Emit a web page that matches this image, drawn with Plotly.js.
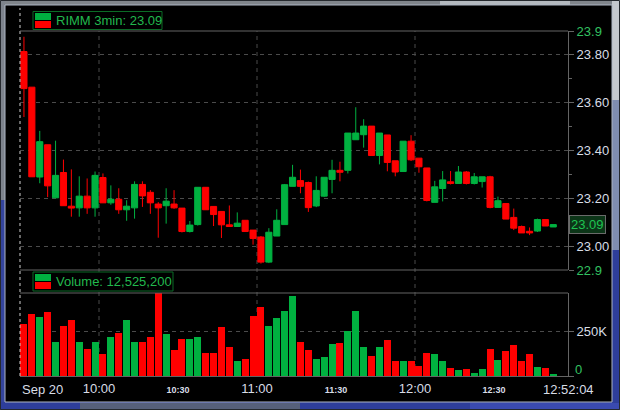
<!DOCTYPE html>
<html><head><meta charset="utf-8">
<script src="https://cdn.plot.ly/plotly-3.0.1.min.js"></script>
<style>html,body{margin:0;padding:0;background:#000;overflow:hidden}#chart{width:620px;height:410px}</style>
</head><body><div id="chart"></div>
<script>
// ---- data (3-minute bars, RIMM, Sep 20) ----
const times = ['09:30','09:33','09:36','09:39','09:42','09:45','09:48','09:51','09:54','09:57',
  '10:00','10:03','10:06','10:09','10:12','10:15','10:18','10:21','10:24','10:27',
  '10:30','10:33','10:36','10:39','10:42','10:45','10:48','10:51','10:54','10:57',
  '11:00','11:03','11:06','11:09','11:12','11:15','11:18','11:21','11:24','11:27',
  '11:30','11:33','11:36','11:39','11:42','11:45','11:48','11:51','11:54','11:57',
  '12:00','12:03','12:06','12:09','12:12','12:15','12:18','12:21','12:24','12:27',
  '12:30','12:33','12:36','12:39','12:42','12:45','12:48','12:51'];
const openP = [23.814,23.665,23.289,23.424,23.202,23.308,23.167,23.160,23.209,23.160,
  23.287,23.181,23.196,23.152,23.160,23.258,23.225,23.176,23.169,23.176,
  23.159,23.061,23.090,23.246,23.166,23.145,23.089,23.082,23.108,23.067,
  23.038,22.933,23.042,23.090,23.250,23.274,23.266,23.168,23.209,23.279,
  23.317,23.317,23.445,23.466,23.502,23.379,23.465,23.357,23.312,23.439,
  23.368,23.327,23.183,23.241,23.269,23.262,23.310,23.262,23.270,23.290,
  23.162,23.178,23.120,23.082,23.062,23.063,23.111,23.080];
const highP = [23.876,23.665,23.482,23.424,23.441,23.362,23.321,23.292,23.283,23.312,
  23.304,23.254,23.242,23.192,23.271,23.271,23.234,23.184,23.242,23.234,
  23.159,23.105,23.246,23.246,23.166,23.145,23.170,23.141,23.108,23.067,
  23.042,23.075,23.154,23.260,23.340,23.320,23.270,23.292,23.288,23.361,
  23.353,23.473,23.581,23.531,23.502,23.473,23.465,23.357,23.439,23.464,
  23.368,23.327,23.273,23.314,23.314,23.335,23.314,23.306,23.290,23.294,
  23.207,23.178,23.157,23.086,23.078,23.115,23.111,23.090];
const lowP = [23.540,23.290,23.263,23.205,23.202,23.169,23.123,23.123,23.135,23.123,
  23.181,23.173,23.135,23.106,23.115,23.164,23.135,23.035,23.094,23.156,
  23.057,23.057,23.086,23.152,23.084,23.034,23.082,23.082,23.061,23.006,
  22.927,22.929,23.042,23.090,23.250,23.221,23.143,23.163,23.205,23.221,
  23.271,23.304,23.445,23.412,23.379,23.342,23.313,23.292,23.312,23.356,
  23.307,23.187,23.183,23.187,23.258,23.262,23.258,23.258,23.245,23.158,
  23.162,23.113,23.067,23.055,23.046,23.059,23.084,23.080];
const closeP = [23.659,23.290,23.437,23.252,23.296,23.169,23.159,23.209,23.160,23.296,
  23.181,23.196,23.152,23.167,23.258,23.210,23.181,23.160,23.188,23.160,
  23.061,23.088,23.246,23.152,23.132,23.089,23.082,23.096,23.061,23.032,
  22.933,23.058,23.108,23.257,23.288,23.250,23.161,23.233,23.288,23.317,
  23.309,23.473,23.473,23.502,23.379,23.473,23.350,23.310,23.439,23.361,
  23.332,23.191,23.248,23.277,23.262,23.310,23.262,23.290,23.290,23.162,
  23.190,23.113,23.075,23.055,23.055,23.111,23.084,23.090];
const volume = [289000,344000,328000,356000,189000,278000,311000,189000,150000,189000,
  122000,217000,239000,311000,189000,189000,217000,600000,233000,144000,
  206000,206000,217000,128000,128000,272000,161000,83000,94000,333000,
  383000,278000,322000,361000,450000,189000,144000,94000,106000,178000,
  183000,250000,361000,161000,111000,161000,200000,83000,83000,83000,
  56000,128000,122000,83000,44000,33000,39000,17000,39000,150000,
  89000,139000,172000,83000,122000,50000,44000,11000];
const priceTicks = [22.9,23.0,23.2,23.4,23.6,23.8,23.9];
const priceTickText = ['22.9','23.00','23.20','23.40','23.60','23.80','23.9'];
const minorPriceTicks = [23.1,23.3,23.5,23.7];
const volTicks = [0,250000];
const volTickText = ['0','250K'];
const timeTicks = ['10:00','10:30','11:00','11:30','12:00','12:30'];
const dayLabel = 'Sep 20';
const lastTime = '12:52:04';
const symbol = 'RIMM 3min: 23.09';
const lastPrice = 23.09;
const volLabel = 'Volume: 12,525,200';

// ---- helpers ----
const UP = '#00b140', DOWN = '#ff0000';
const GREEN_TXT = '#22b84e', LIGHT = '#d8dde6';
const toMin = s => { const [h,m] = s.split(':').map(Number); return h*60+m; };
const xs = times.map(t => toMin(t) + 1.5);           // bar centre inside its 3-min slot
const volColors = openP.map((o,i) => closeP[i] > o ? UP : DOWN);

const W=620,H=410,L=20,R=52,T=31,B=34;
const PW=W-L-R, PH=H-T-B;
const px = x => (x-L)/PW, py = y => (H-B-y)/PH;
const FONT = 'Liberation Sans, Arial, sans-serif';

const candle = {
  type:'candlestick', x:xs, open:openP, high:highP, low:lowP, close:closeP,
  xaxis:'x', yaxis:'y',
  increasing:{line:{color:UP,width:1}, fillcolor:UP},
  decreasing:{line:{color:DOWN,width:1}, fillcolor:DOWN},
  whiskerwidth:0, hoverinfo:'skip'
};
const vol = {
  type:'bar', x:xs, y:volume, xaxis:'x', yaxis:'y2',
  marker:{color:volColors, line:{width:0}}, width:2.65, hoverinfo:'skip'
};

function rectP(x0,y0,x1,y1,fill,line,lw){
  return {type:'rect',xref:'paper',yref:'paper',x0:px(x0),x1:px(x1),y0:py(y0),y1:py(y1),
    fillcolor:fill||'rgba(0,0,0,0)', line:{color:line||'rgba(0,0,0,0)', width:lw===undefined?0:lw}};
}
function hline(y,color){
  return {type:'line',xref:'paper',yref:'paper',x0:0,x1:1,y0:py(y),y1:py(y),line:{color:color,width:1}};
}
const GRID='#4b4b4b', BORDER='#646464';
const shapes = [];
// vertical hour gridlines across both panels
['10:00','11:00','12:00'].forEach(t => shapes.push({type:'line',xref:'x',yref:'paper',x0:toMin(t),x1:toMin(t),y0:0,y1:1,
  line:{color:GRID,width:1,dash:'4px,4px'},layer:'below'}));
// day-start line
shapes.push({type:'line',xref:'paper',yref:'paper',x0:0,x1:0,y0:py(376),y1:py(8),line:{color:'#d0d0d0',width:1,dash:'3px,3px'}});
// panel borders
shapes.push(hline(31,BORDER), hline(270,BORDER), hline(293,BORDER));
// legend boxes
shapes.push(rectP(33,11.5,162,29.5,'#000','#0b6b26',1));
shapes.push(rectP(35,13,51,20,UP), rectP(35,21,51,28,DOWN));
shapes.push(rectP(33,272,173,291,'#000','#0b6b26',1));
shapes.push(rectP(35,274,51,281,UP), rectP(35,282,51,289,DOWN));
// window frame
shapes.push(rectP(0,0,620,5,'#80858b'));
shapes.push(rectP(440,0,570,5,'#b4b9bf'));
shapes.push(rectP(0,0,5,200,'#7d838c'), rectP(0,200,5,410,'#34449c'));
shapes.push(rectP(612,0,620,100,'#c4c8cd'), rectP(612,100,620,250,'#7f8db0'), rectP(612,250,620,410,'#2e3e9a'));
shapes.push(rectP(0,402,620,410,'#2e3e9a'));
shapes.push(rectP(80,403,300,409,'#56607a'), rectP(470,403,620,409,'#3a4ab0'));
shapes.push(rectP(5,5,612,402,null,'#aeb6c4',1));
shapes.push(rectP(0.5,0.5,619.5,409.5,null,'#25292e',1));

const greenSpan = s => '<span style="color:#33c060">'+s+'</span>';
const pTickText = priceTickText.map((s,i) => (i===0||i===priceTickText.length-1) ? greenSpan(s) : s);
const tTickText = timeTicks.map(s => s.endsWith(':30') ? '<b><span style="font-size:9px">'+s+'</span></b>' : s);

const annotations = [
  {text:symbol,xref:'paper',yref:'paper',x:px(54),y:py(20.5),xanchor:'left',yanchor:'middle',showarrow:false,font:{family:FONT,size:13,color:GREEN_TXT}},
  {text:volLabel,xref:'paper',yref:'paper',x:px(54),y:py(281.5),xanchor:'left',yanchor:'middle',showarrow:false,font:{family:FONT,size:13,color:GREEN_TXT}},
  {text:lastPrice.toFixed(2),xref:'paper',yref:'y',x:1,y:lastPrice,xanchor:'left',yanchor:'middle',xshift:1,showarrow:false,
    bgcolor:'#0c3518',bordercolor:'#6a6a6a',borderwidth:1,borderpad:1,font:{family:FONT,size:13,color:'#1ec452'}},
  {text:'0',xref:'paper',yref:'y2',x:1,y:0,xanchor:'left',yanchor:'middle',xshift:5,yshift:7,showarrow:false,font:{family:FONT,size:13,color:'#33c060'}},
  {text:dayLabel,xref:'paper',yref:'paper',x:0,y:py(389),xanchor:'left',yanchor:'middle',showarrow:false,font:{family:FONT,size:13,color:LIGHT}},
  {text:lastTime,xref:'paper',yref:'paper',x:1,y:py(389),xanchor:'center',yanchor:'middle',showarrow:false,font:{family:FONT,size:13,color:LIGHT}}
];

const layout = {
  width:W,height:H,margin:{l:L,r:R,t:T,b:B,pad:0},
  paper_bgcolor:'#000',plot_bgcolor:'rgba(0,0,0,0)',showlegend:false,hovermode:false,
  font:{family:FONT,size:13,color:LIGHT},
  boxgap:0.12, boxgroupgap:0.12, bargap:0,
  xaxis:{anchor:'y2',range:[570,778.1],rangeslider:{visible:false},tickmode:'array',
    tickvals:timeTicks.map(toMin),ticktext:tTickText,ticks:'',showgrid:false,zeroline:false,
    showline:true,linecolor:BORDER,linewidth:1,tickfont:{family:FONT,size:13,color:LIGHT},fixedrange:true},
  yaxis:{domain:[py(270),1],range:[22.9,23.9],side:'right',anchor:'x',tickmode:'array',
    tickvals:priceTicks,ticktext:pTickText,ticks:'outside',ticklen:5,tickcolor:BORDER,
    showline:true,linecolor:BORDER,linewidth:1,showgrid:true,gridcolor:GRID,griddash:'4px,4px',gridwidth:1,
    zeroline:false,tickfont:{family:FONT,size:13,color:LIGHT},
    minor:{tickmode:'array',tickvals:minorPriceTicks,ticks:'outside',ticklen:3,tickcolor:BORDER,showgrid:false}},
  yaxis2:{domain:[0,py(293)],range:[0,464000],side:'right',anchor:'x',tickmode:'array',
    tickvals:volTicks,ticktext:['',volTickText[1]],ticks:'outside',ticklen:5,tickcolor:BORDER,
    showline:true,linecolor:BORDER,linewidth:1,showgrid:true,gridcolor:GRID,griddash:'4px,4px',
    zeroline:false,tickfont:{family:FONT,size:13,color:LIGHT}},
  shapes:shapes, annotations:annotations
};
Plotly.newPlot('chart',[vol,candle],layout,{staticPlot:true,displayModeBar:false});
</script></body></html>
